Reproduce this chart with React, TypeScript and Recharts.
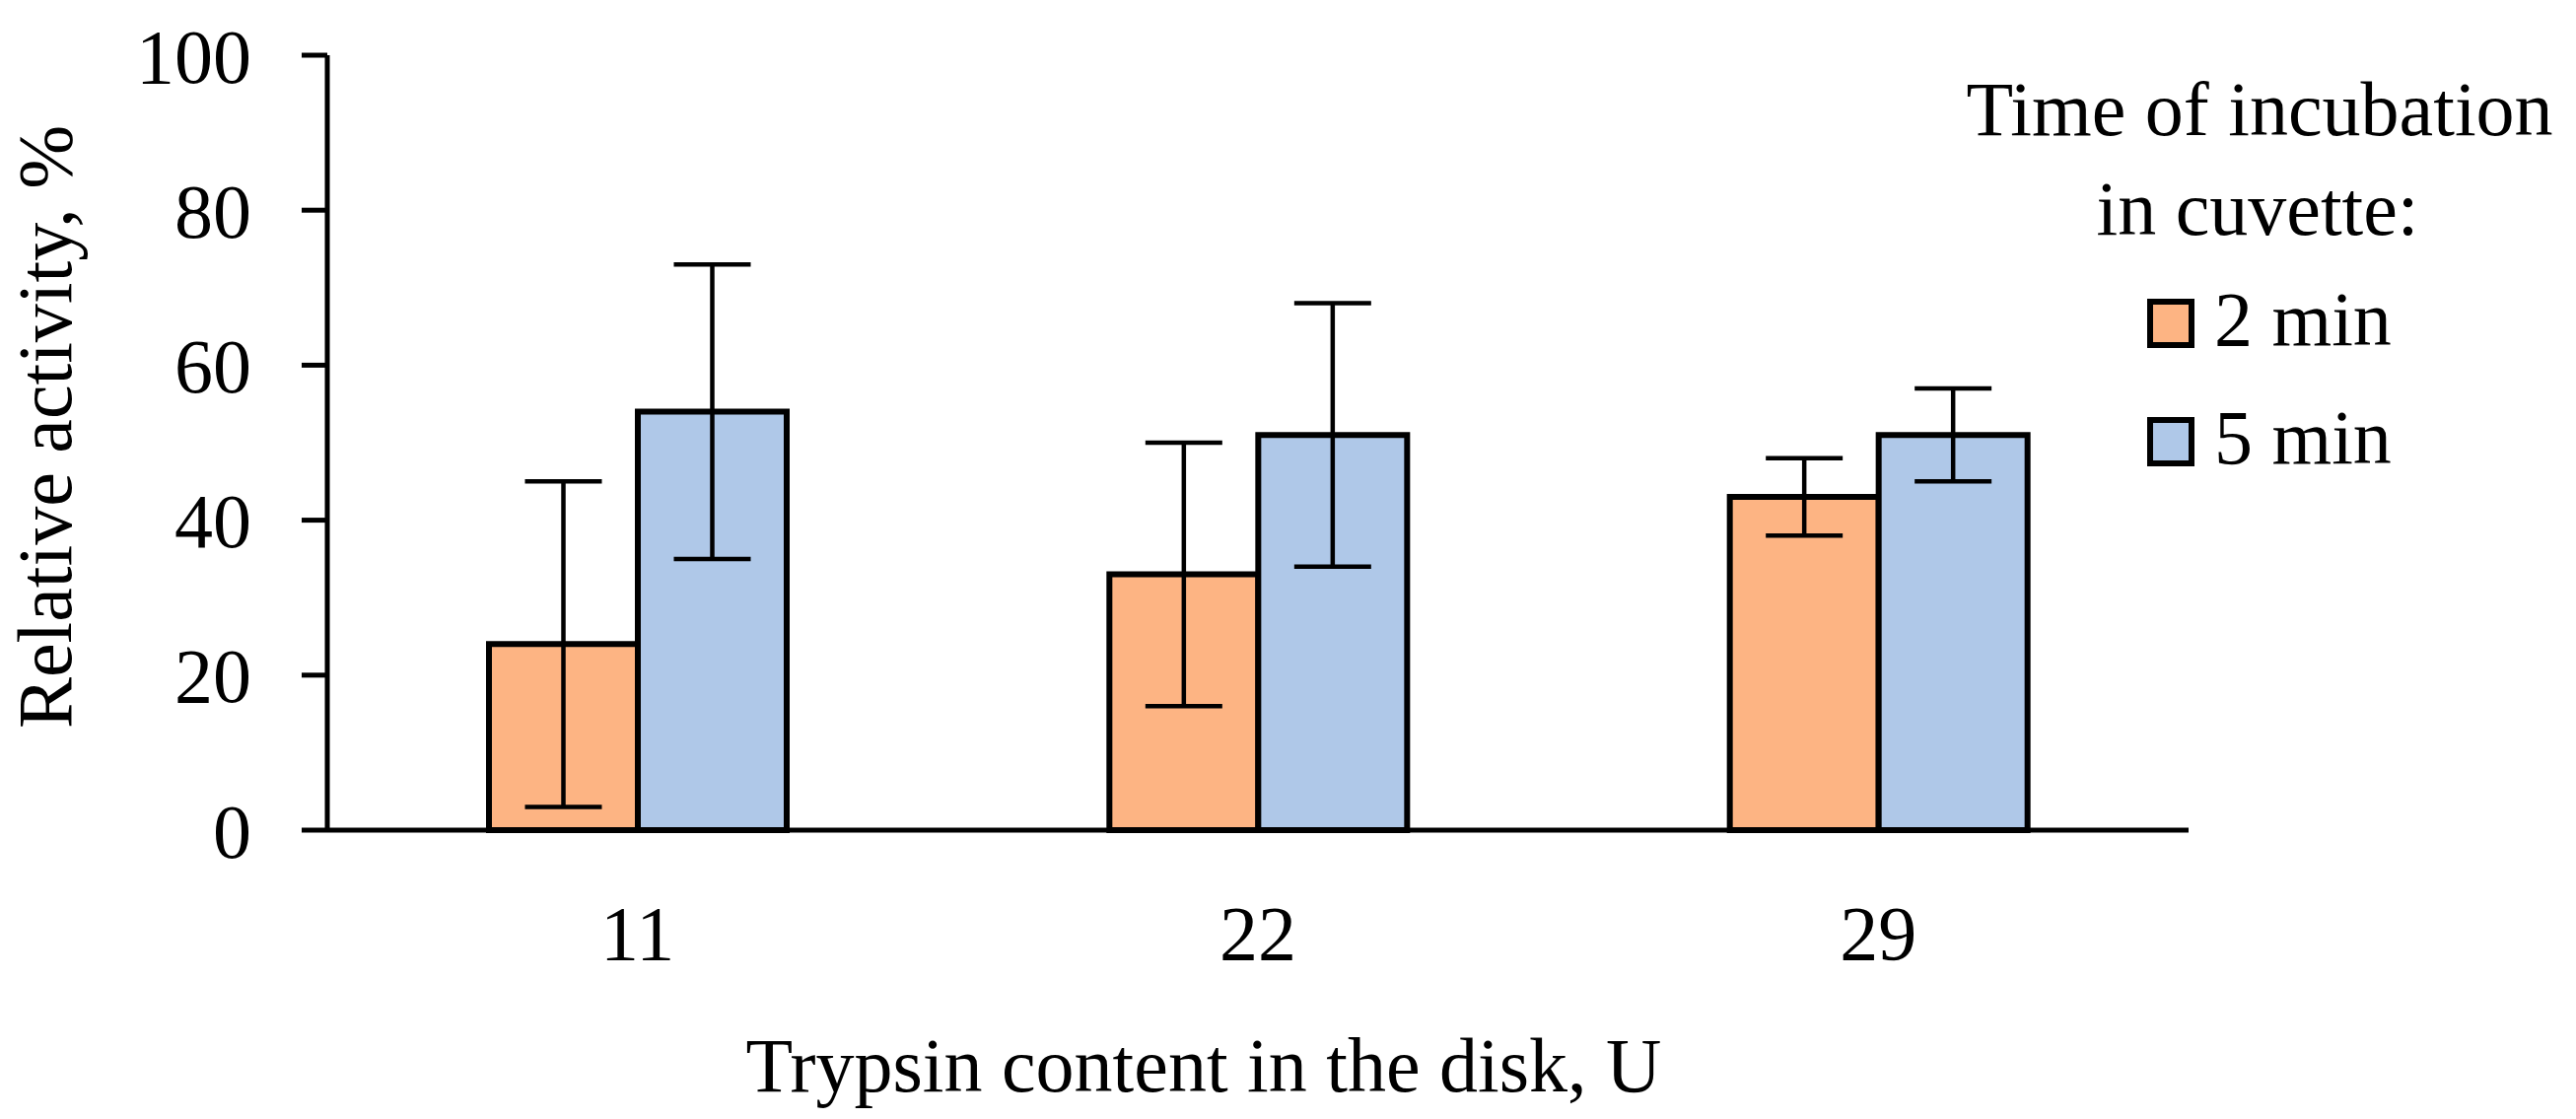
import { Bar, BarChart, ErrorBar, Legend, XAxis, YAxis } from "recharts";

const categories = ["11", "22", "29"];
const twoMin = [24, 33, 43];
const twoMinErr = [21, 17, 5];
const fiveMin = [54, 51, 51];
const fiveMinErr = [19, 17, 6];
const yTicks = [0, 20, 40, 60, 80, 100];

const data = categories.map((dose, i) => ({
  dose,
  twoMin: twoMin[i],
  twoMinErr: twoMinErr[i],
  fiveMin: fiveMin[i],
  fiveMinErr: fiveMinErr[i],
}));

const FONT = "'Liberation Serif', 'Times New Roman', serif";
const FS = 78;

function LegendBox({ payload }: any) {
  const items = payload || [];
  return (
    <svg width={645} height={500} style={{ display: "block" }}>
      <text x={332} y={129} textAnchor="middle" fontFamily={FONT} fontSize={FS} fill="#000">
        Time of incubation
      </text>
      <text x={330} y={230} textAnchor="middle" fontFamily={FONT} fontSize={FS} fill="#000">
        in cuvette:
      </text>
      {items.map((item: any, i: number) => (
        <g key={item.value}>
          <rect x={221} y={298 + i * 120} width={42} height={44} fill={item.color} stroke="#000" strokeWidth={6} />
          <text x={286} y={342 + i * 120} fontFamily={FONT} fontSize={FS} fill="#000">
            {item.value}
          </text>
        </g>
      ))}
    </svg>
  );
}

// rotated y title, baseline sits at page x ~72
function YTitle() {
  const cx = 72;
  const cy = 425;
  return (
    <text
      x={cx}
      y={cy}
      transform={`rotate(-90, ${cx}, ${cy})`}
      textAnchor="middle"
      fontFamily={FONT}
      fontSize={FS}
      fill="#000"
    >
      Relative activity, %
    </text>
  );
}

function XTitle() {
  return (
    <text x={1221} y={1099} textAnchor="middle" fontFamily={FONT} fontSize={FS} fill="#000">
      Trypsin content in the disk, U
    </text>
  );
}

export default function App() {
  return (
    <div style={{ width: 2605, height: 1127, marginLeft: -8, background: "#fff" }}>
      <BarChart
        width={2605}
        height={1127}
        data={data}
        barGap={0}
        barSize={151}
        margin={{ top: 48, right: 385, bottom: 0, left: 8 }}
      >
        <XAxis
          dataKey="dose"
          height={293}
          axisLine={{ stroke: "#000", strokeWidth: 5 }}
          tickLine={false}
          tickSize={0}
          tickMargin={76}
          tick={{ fill: "#000", fontSize: FS, fontFamily: FONT }}
          label={<XTitle />}
        />
        <YAxis
          width={324}
          domain={[0, 100]}
          ticks={yTicks}
          interval={0}
          axisLine={{ stroke: "#000", strokeWidth: 5 }}
          tickLine={{ stroke: "#000", strokeWidth: 5 }}
          tickSize={26}
          tickMargin={51}
          tick={{ fill: "#000", fontSize: FS, fontFamily: FONT }}
          label={<YTitle />}
        />
        <Legend
          layout="horizontal"
          verticalAlign="middle"
          align="center"
          wrapperStyle={{ left: 1960, top: 0, width: 645, height: 500 }}
          content={<LegendBox />}
        />
        <Bar dataKey="twoMin" name="2 min" fill="#FDB483" stroke="#000" strokeWidth={6} isAnimationActive={false}>
          <ErrorBar dataKey="twoMinErr" width={39} stroke="#000" strokeWidth={4.5} direction="y" />
        </Bar>
        <Bar dataKey="fiveMin" name="5 min" fill="#AFC8E8" stroke="#000" strokeWidth={6} isAnimationActive={false}>
          <ErrorBar dataKey="fiveMinErr" width={39} stroke="#000" strokeWidth={4.5} direction="y" />
        </Bar>
      </BarChart>
    </div>
  );
}
